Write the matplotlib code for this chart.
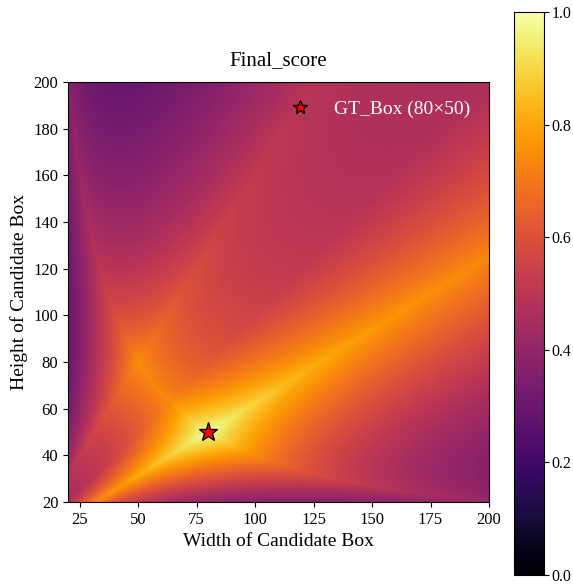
import numpy as np
import matplotlib
matplotlib.use("Agg")
import matplotlib.pyplot as plt

plt.rcParams['font.family'] = ['Liberation Serif', 'DejaVu Serif']

# Ground-truth box and candidate ranges
gt_w = 80
gt_h = 50
w_range = [20, 200]
h_range = [20, 200]
n_grid = 400
x_ticks = [25, 50, 75, 100, 125, 150, 175, 200]
y_ticks = [20, 40, 60, 80, 100, 120, 140, 160, 180, 200]
cbar_ticks = [0.0, 0.2, 0.4, 0.6, 0.8, 1.0]

# Score components: area similarity, oriented aspect similarity, unoriented aspect similarity
weights = [0.31, 0.41, 0.28]

w = np.linspace(w_range[0], w_range[1], n_grid)
h = np.linspace(h_range[0], h_range[1], n_grid)
W, H = np.meshgrid(w, h)

area = W * H
area0 = gt_w * gt_h
s_area = np.minimum(area, area0) / np.maximum(area, area0)
r = W / H
r0 = gt_w / gt_h
s_asym = np.minimum(r, r0) / np.maximum(r, r0)
q = np.minimum(W, H) / np.maximum(W, H)
q0 = min(gt_w, gt_h) / max(gt_w, gt_h)
s_sym = np.minimum(q, q0) / np.maximum(q, q0)
score = weights[0] * s_area + weights[1] * s_asym + weights[2] * s_sym

fig = plt.figure(figsize=(5.73, 5.84), dpi=100)
ax = fig.add_axes([68/573, 82/584, 421/573, 420/584])
cax = fig.add_axes([514/573, 9/584, 30/573, 563/584])

im = ax.imshow(score, origin='lower', cmap='inferno', vmin=0, vmax=1,
               extent=[w_range[0], w_range[1], h_range[0], h_range[1]],
               aspect='auto', interpolation='bilinear')
ax.plot([gt_w], [gt_h], marker='*', color='red', markeredgecolor='black',
        markersize=14, linestyle='none', label=f'GT_Box ({gt_w}×{gt_h})')
ax.set_xlim(w_range)
ax.set_ylim(h_range)
ax.set_xticks(x_ticks)
ax.set_yticks(y_ticks)
ax.tick_params(labelsize=12)
ax.set_xlabel('Width of Candidate Box', fontsize=14)
ax.set_ylabel('Height of Candidate Box', fontsize=14)
ax.set_title('Final_score', fontsize=15, pad=12)
leg = ax.legend(loc='upper right', frameon=False, fontsize=14, markerscale=0.75,
                handletextpad=0.75, borderaxespad=0.55)
for t in leg.get_texts():
    t.set_color('white')

cb = fig.colorbar(im, cax=cax)
cb.set_ticks(cbar_ticks)
cb.ax.tick_params(labelsize=11.5, length=3.5, pad=2)

fig.savefig('out.png', dpi=100)
